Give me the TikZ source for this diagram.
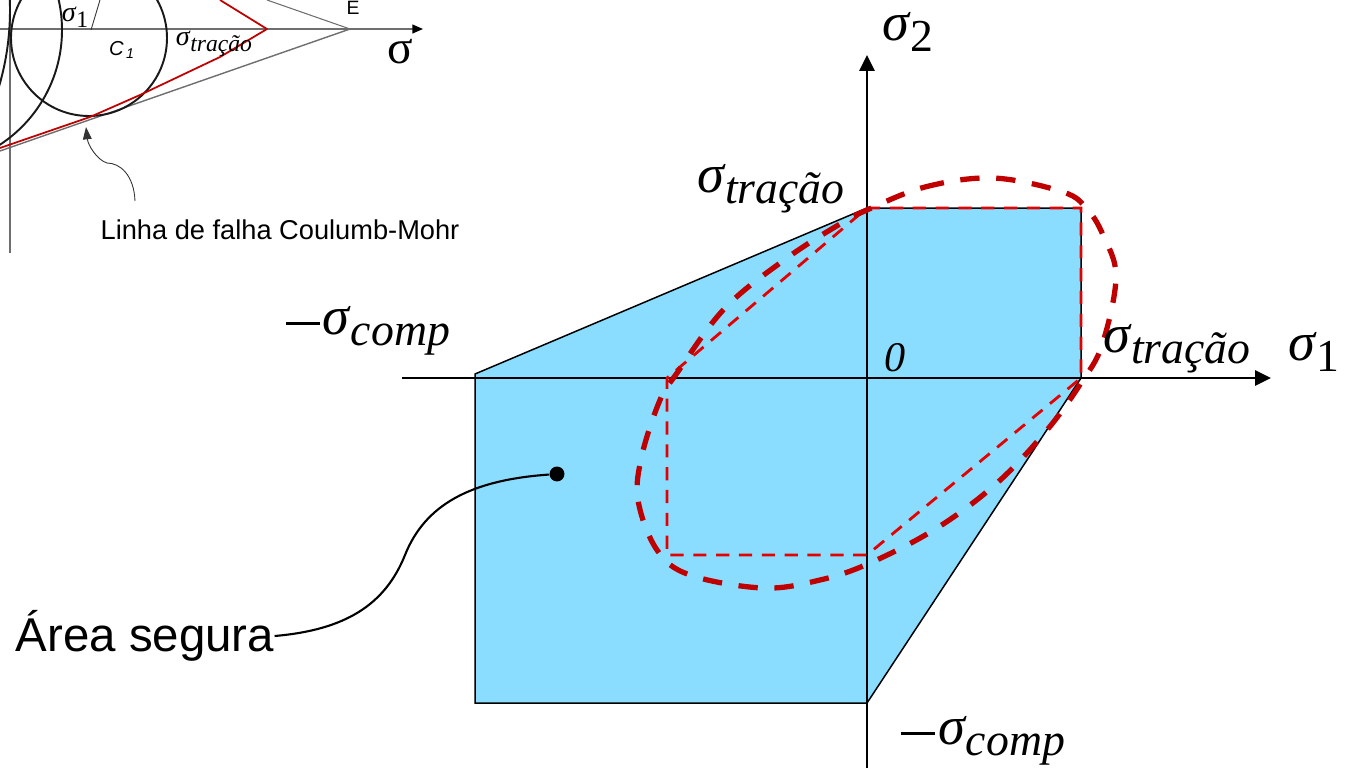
\documentclass[tikz,border=0pt]{standalone}
\usepackage{fontspec}
\setsansfont{Liberation Sans}
\newfontfamily\symf{Liberation Serif}[ItalicFont=* Italic]
\usepackage{tikz}
\usetikzlibrary{arrows.meta,positioning,calc}
\definecolor{safeblue}{HTML}{8BDDFF}
\definecolor{darkred}{HTML}{C00000}
\definecolor{inkgrey}{HTML}{6E6E6E}
% sigma with a lowered index, sizes follow the current font
\newcommand{\sigidx}[1]{{\symf\itshape σ\raisebox{-.2em}{\kern.02em\scalebox{.84}{#1}}}}
\newcommand{\minus}{\raisebox{.17em}{\rule{.62em}{.07em}}\kern.06em}
\tikzset{
  ar/.style    ={-{Triangle[length=9pt,width=8.5pt]},line width=1.4pt},
  arsm/.style  ={-{Triangle[length=7pt,width=5pt]}},
  region/.style={draw,fill=safeblue,line width=.85pt},
  oldcurve/.style={darkred,line width=3pt,dash pattern=on 11pt off 9.5pt},
  newpoly/.style ={red!90!black,line width=1.6pt,dash pattern=on 7.5pt off 5.5pt},
  redline/.style ={darkred,line width=1pt,line join=round},
  greyline/.style={inkgrey,line width=.8pt},
  mohr/.style  ={line width=1.1pt,black!90},
  dot/.style   ={circle,fill=black,inner sep=0pt,minimum size=8.5pt},
  lbl/.style   ={font=\fontsize{31}{34}\selectfont,inner sep=0pt},
  lblsm/.style ={font=\fontsize{16}{18}\selectfont,inner sep=0pt},
  txt/.style   ={font=\sffamily\fontsize{27}{30}\selectfont,inner sep=0pt},
  txtsm/.style ={font=\sffamily\fontsize{15.5}{18}\selectfont,inner sep=0pt},
}
\begin{document}
\begin{tikzpicture}[x=0.02cm,y=-0.02cm]
  \useasboundingbox (0,0) rectangle (1348,768);
  \clip (0,0) rectangle (1348,768);

  % safe region and its axes
  \coordinate (a) at (475,374); \coordinate (b) at (867,208);
  \coordinate (c) at (1081,208); \coordinate (d) at (1081,378);
  \coordinate (e) at (867,703); \coordinate (f) at (475,703);
  \draw[region] (a) -- (b) -- (c) -- (d) -- (e) -- (f) -- cycle;
  \coordinate (xl) at (402,378); \coordinate (xr) at (1271,378);
  \coordinate (yb) at (867,768); \coordinate (yt) at (867,55);
  \draw[ar] (xl) -- (xr);
  \draw[ar] (yb) -- (yt);

  % thin polygon, thick curve
  \coordinate (p1) at (667,378); \coordinate (p2) at (667,555); \coordinate (p3) at (867,555);
  \draw[newpoly] (b) -- (c) -- (d) -- (p3) -- (p2) -- (p1) -- cycle;
  \draw[oldcurve] plot[smooth cycle,tension=.6] coordinates {
    (867,210) (925,187) (993,178) (1063,192) (1087,209) (1103,235) (1116,277) (1102,345)
    (1081,383) (1047,430) (997,483) (937,528) (870,563) (820,580) (763,588)
    (690,575) (657,550) (638,500) (642,455) (660,400) (677,373) (725,308)
    (787,258) (840,224)};

  % labels of the diagram
  \node[lbl] (s2) at (908,32) {\sigidx{\upshape 2}};
  \node[lbl] (s1) at (1314,352) {\sigidx{\upshape 1}};
  \node[lbl] (sty) at (771,189) {\sigidx{tração}};
  \node[lbl] (stx) at (1177,349) {\sigidx{tração}};
  \node[lbl] (scx) at (368,331) {\minus\sigidx{comp}};
  \node[lbl] (scy) at (983,741) {\minus\sigidx{comp}};
  \node[lbl,font=\fontsize{24}{26}\selectfont] (zero) at (895,358) {\symf\textit{0}};

  \node[txt] (safe) at (145,636) {Área segura};
  \node[dot] (pt) at (557,474) {};
  \draw[line width=1.2pt] (safe.east) .. controls (345,630) and (385,605) .. (405,555)
    .. controls (425,505) and (470,480) .. (pt);

  % inset with the Coulomb-Mohr line
  \coordinate (o) at (0,29); \coordinate (ox) at (423,29);
  \coordinate (vt) at (10,0); \coordinate (vb) at (10,253);
  \coordinate (E) at (350,29); \coordinate (T) at (267,29);
  \draw[greyline,-{Triangle[length=6pt,width=5pt,black]}] (o) -- (ox);
  \draw[greyline] (vt) -- (vb);
  \draw[greyline] (E) -- (0,151);
  \draw[greyline,line width=.6pt] (E) -- (267,0);
  \draw[mohr] (89,38) circle [radius=78];
  \draw[mohr] (-75,30) circle [radius=137];
  \draw[mohr] (-260,10) circle [radius=270];
  \draw[redline] (220,0) -- (T) -- (220,57) -- (140,95) -- (90,117) -- (0,148);
  \draw[line width=.5pt,black!80] (100,0) -- (91,30);
  \node[lblsm] (s1i) at (75,17) {\sigidx{\upshape 1}};
  \node[lblsm] (sti) at (214,44) {\sigidx{tração}};
  \node[inner sep=0pt,font=\sffamily\itshape\fontsize{11.5}{13}\selectfont] (c1) at (122,50) {C\textsubscript{\,1}};
  \node[inner sep=0pt,font=\sffamily\fontsize{11}{13}\selectfont] (pe) at (353,8) {E};
  \node[inner sep=0pt,font=\symf\fontsize{27}{30}\selectfont] (sg) at (400,52) {σ};
  \node[txtsm] (line) at (280,230) {Linha de falha Coulumb-Mohr};
  \coordinate (lt) at (135,201); \coordinate (lh) at (86,127);
  \draw[arsm,line width=.5pt,black!80] (lt) .. controls (134,175) and (120,163) .. (107,163)
    .. controls (97,160) and (88,145) .. (lh);
\end{tikzpicture}
\end{document}
